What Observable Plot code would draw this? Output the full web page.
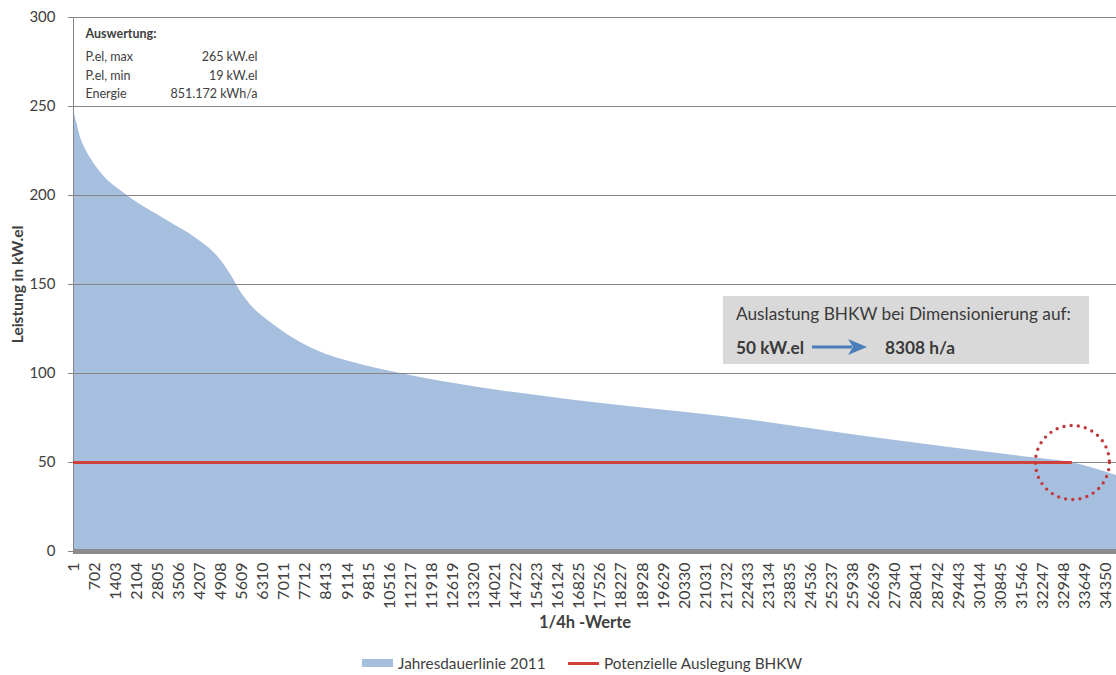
<!DOCTYPE html>
<html><head><meta charset="utf-8">
<script src="https://cdn.jsdelivr.net/npm/d3@7"></script>
<script src="https://cdn.jsdelivr.net/npm/@observablehq/plot@0.6"></script>
<style>
body{margin:0;background:#fff;font-family:Lato,sans-serif;color:#404040;}
#legend{position:relative;height:36px;font-size:15.3px;}
.lg{position:absolute;top:0;height:36px;display:flex;align-items:center;white-space:nowrap;}
.sw{display:inline-block;width:31px;margin-right:5px;}
</style></head><body>
<div id="chart"></div>
<div id="legend">
  <div class="lg" style="left:362px"><span class="sw" style="height:8px;background:#a7bfde"></span>Jahresdauerlinie 2011</div>
  <div class="lg" style="left:568px"><span class="sw" style="height:3px;background:#d0413c"></span>Potenzielle Auslegung BHKW</div>
</div>
<script>
// Jahresdauerlinie: quarter-hour rank vs. electric power (kW)
const quarterHourIndex = [0, 60, 123, 233, 343, 566, 898, 1787, 3117, 3992, 4781, 5100, 5323, 5556, 5800, 6000, 6300, 6650, 7011, 7400, 7712, 8413, 9116, 10879, 13541, 16635, 21858, 26849, 31840, 33170, 34700];
const powerKW =          [250, 244, 240, 232.6, 228, 221, 213, 200, 186, 177, 166, 159, 153, 146, 140.5, 136.5, 132, 127.5, 123, 119, 116, 110.7, 107, 100, 92, 85, 75.3, 63.5, 52.8, 50, 42.7];
const xTickLabels = [1, 702, 1403, 2104, 2805, 3506, 4207, 4908, 5609, 6310, 7011, 7712, 8413, 9114, 9815, 10516, 11217, 11918, 12619, 13320, 14021, 14722, 15423, 16124, 16825, 17526, 18227, 18928, 19629, 20330, 21031, 21732, 22433, 23134, 23835, 24536, 25237, 25938, 26639, 27340, 28041, 28742, 29443, 30144, 30845, 31546, 32247, 32948, 33649, 34350];
const yTicks = [0, 50, 100, 150, 200, 250, 300];
const designPowerKW = 50;
const fullLoadHours = 8308;
const statsHeading = "Auswertung:";
const statsLabels = ["P.el, max", "P.el, min", "Energie"];
const statsValues = ["265 kW.el", "19 kW.el", "851.172 kWh/a"];
const boxTitle = "Auslastung BHKW bei Dimensionierung auf:";
const boxPower = "50 kW.el";
const boxHours = "8308 h/a";

const curve = quarterHourIndex.map((q, i) => ({q, p: powerKW[i]}));
const design = [{y: designPowerKW, x1: 1, x2: fullLoadHours * 4}];
const designEnd = [{x: fullLoadHours * 4, y: designPowerKW}];

function bhkwBox(index, scales, values, dims) {
  const g = d3.create("svg:g").attr("text-anchor", "start").attr("fill", "#3a3a3a").attr("font-size", 17.3);
  g.append("rect").attr("x", 723).attr("y", 296).attr("width", 366).attr("height", 68).attr("fill", "#d9d9d9");
  g.append("text").attr("x", 736).attr("y", 320).text(boxTitle);
  g.append("text").attr("x", 736).attr("y", 354).attr("font-weight", "bold").text(boxPower);
  g.append("text").attr("x", 885).attr("y", 354).attr("font-weight", "bold").text(boxHours);
  g.append("line").attr("x1", 812).attr("x2", 852).attr("y1", 347).attr("y2", 347).attr("stroke", "#4a7ebb").attr("stroke-width", 3);
  g.append("path").attr("d", "M848,339 L867,347 L848,355 L853,347 Z").attr("fill", "#4a7ebb");
  return g.node();
}

const chart = Plot.plot({
  width: 1116,
  height: 645,
  marginTop: 17,
  marginBottom: 94,
  marginLeft: 73,
  marginRight: 0,
  style: {fontFamily: "Lato, sans-serif", fontSize: "15px", color: "#404040", background: "#fff"},
  x: {domain: [0, 34700]},
  y: {domain: [0, 300]},
  marks: [
    Plot.areaY(curve, {x: "q", y: "p", fill: "#a7bfde", curve: "monotone-x"}),
    Plot.gridY(yTicks, {stroke: "#868686", strokeOpacity: 1}),
    Plot.ruleX([0], {stroke: "#868686"}),
    Plot.axisY(yTicks, {tickSize: 5, tickPadding: 13, stroke: "#868686", fill: "#404040", label: null, fontSize: 15}),
    Plot.axisX(xTickLabels, {tickSize: 0, tickPadding: 11, tickRotate: -90, tickFormat: "d", label: null, fill: "#404040", fontSize: 16}),
    Plot.ruleY([0], {stroke: "#8c8c8c", strokeWidth: 5}),
    Plot.ruleY(design, {y: "y", x1: "x1", x2: "x2", stroke: "#d0413c", strokeWidth: 3}),
    Plot.dot(designEnd, {x: "x", y: "y", r: 37, fill: "none", stroke: "#c0393b", strokeWidth: 3.4, strokeDasharray: "0 7.2", strokeLinecap: "round"}),
    Plot.text(["Leistung in kW.el"], {frameAnchor: "left", textAnchor: "middle", lineAnchor: "middle", dx: -55, rotate: -90, fontWeight: "bold", fontSize: 15.5, fill: "#404040"}),
    Plot.text(["1/4h -Werte"], {frameAnchor: "bottom", textAnchor: "middle", lineAnchor: "middle", dx: -10, dy: 71, fontWeight: "bold", fontSize: 16.5, fill: "#404040"}),
    Plot.text([statsHeading], {frameAnchor: "top-left", dx: 12, dy: 11.4, lineAnchor: "top", fontWeight: "bold", fontSize: 12.5, fill: "#404040"}),
    Plot.text([statsLabels.join("\n")], {frameAnchor: "top-left", dx: 12, dy: 30.1, lineAnchor: "top", lineHeight: 1.5, fontSize: 12.5, fill: "#404040"}),
    Plot.text([statsValues.join("\n")], {frameAnchor: "top-left", dx: 184, dy: 30.1, lineAnchor: "top", lineHeight: 1.5, textAnchor: "end", fontSize: 12.5, fill: "#404040"}),
    bhkwBox
  ]
});
document.getElementById("chart").appendChild(chart);
</script>
</body></html>
